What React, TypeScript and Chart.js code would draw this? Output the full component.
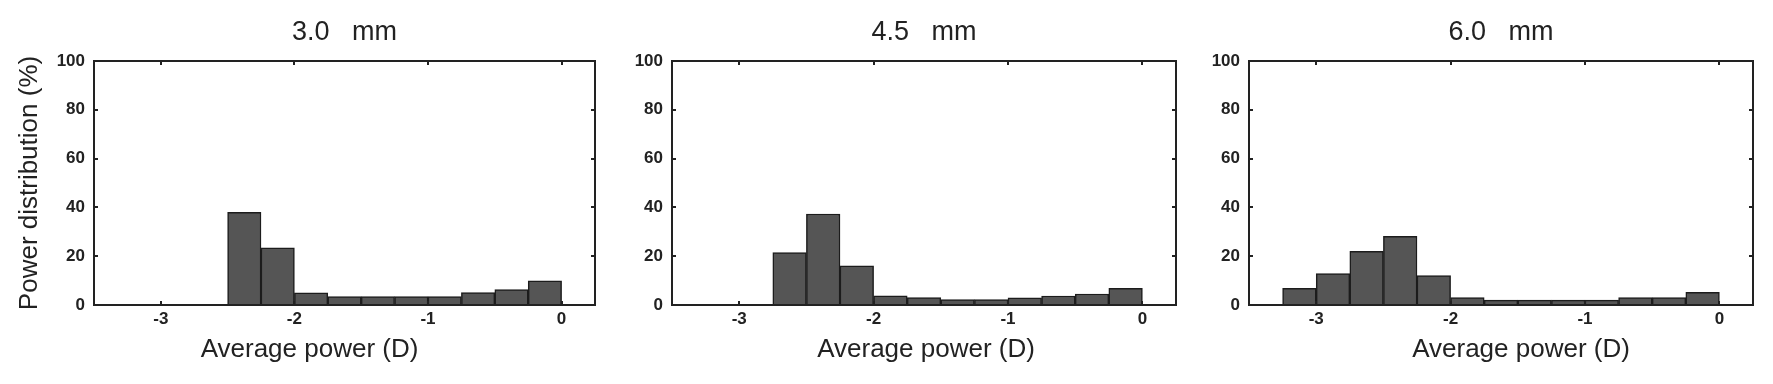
import React, { useEffect, useRef } from 'react';
import { Chart, registerables } from 'chart.js';

Chart.register(...registerables);

// ---- data ----
const panelTitles = ['3.0   mm', '4.5   mm', '6.0   mm'];
const xAxisTitle = 'Average power (D)';
const yAxisTitle = 'Power distribution (%)';
const xTickValues = [-3, -2, -1, 0];
const yTickValues = [0, 20, 40, 60, 80, 100];
const X_MIN = -3.5;
const X_MAX = 0.25;
const Y_MIN = 0;
const Y_MAX = 100;

const binCenters30 = [-2.375, -2.125, -1.875, -1.625, -1.375, -1.125, -0.875, -0.625, -0.375, -0.125];
const values30 = [38, 23.4, 5, 3.5, 3.5, 3.5, 3.5, 5.1, 6.3, 9.9];

const binCenters45 = [-2.625, -2.375, -2.125, -1.875, -1.625, -1.375, -1.125, -0.875, -0.625, -0.375, -0.125];
const values45 = [21.5, 37.3, 16.1, 3.8, 3, 2.2, 2.2, 2.9, 3.7, 4.5, 6.8];

const binCenters60 = [-3.125, -2.875, -2.625, -2.375, -2.125, -1.875, -1.625, -1.375, -1.125, -0.875, -0.625, -0.375, -0.125];
const values60 = [6.8, 12.9, 22, 28.1, 12.1, 3, 2, 2, 2, 2, 3, 3, 5.2];

const panelCenters = [binCenters30, binCenters45, binCenters60];
const panelValues = [values30, values45, values60];

// ---- layout / style ----
const CANVAS_H = 384;
const panels = [
  { left: 0, width: 600, yAxisWidth: 94, padRight: 5, showYTitle: true, xTitleShift: -35 },
  { left: 600, width: 580, yAxisWidth: 72, padRight: 4, showYTitle: false, xTitleShift: 2 },
  { left: 1180, width: 593, yAxisWidth: 69, padRight: 20, showYTitle: false, xTitleShift: 20 },
];
const INK = '#222222';
const BAR_FILL = '#555555';
const BAR_EDGE = '#1c1c1c';
const SANS = "'Liberation Sans', Arial, Helvetica, sans-serif";

const framePlugin = {
  id: 'frame',
  afterDatasetsDraw(chart: any, _args: any, opts: any) {
    const { ctx, chartArea: a, scales } = chart;
    ctx.save();
    ctx.strokeStyle = INK;
    ctx.lineWidth = 2;
    ctx.strokeRect(a.left, a.top, a.right - a.left, a.bottom - a.top);
    const tl = 4;
    ctx.beginPath();
    for (const v of xTickValues) {
      const px = Math.round(scales.x.getPixelForValue(v));
      ctx.moveTo(px, a.bottom);
      ctx.lineTo(px, a.bottom - tl);
      ctx.moveTo(px, a.top);
      ctx.lineTo(px, a.top + tl);
    }
    for (const v of yTickValues) {
      const py = Math.round(scales.y.getPixelForValue(v));
      ctx.moveTo(a.left, py);
      ctx.lineTo(a.left + tl, py);
      ctx.moveTo(a.right, py);
      ctx.lineTo(a.right - tl, py);
    }
    ctx.stroke();
    ctx.fillStyle = INK;
    ctx.font = `26px ${SANS}`;
    ctx.textAlign = 'center';
    ctx.textBaseline = 'middle';
    ctx.fillText(xAxisTitle, (a.left + a.right) / 2 + (opts.shift || 0), a.bottom + 45);
    ctx.restore();
  },
};

function Panel({ idx }: { idx: number }) {
  const ref = useRef<HTMLCanvasElement>(null);
  const p = panels[idx];
  useEffect(() => {
    if (!ref.current) return;
    const centers = panelCenters[idx];
    const vals = panelValues[idx];
    const tickFont = { family: SANS, size: 17, weight: 'bold' as const };
    const chart = new Chart(ref.current, {
      type: 'bar',
      data: {
        datasets: [
          {
            data: centers.map((c, i) => ({ x: c, y: vals[i] })),
            backgroundColor: BAR_FILL,
            borderColor: BAR_EDGE,
            borderWidth: 1.5,
            barPercentage: 1,
            categoryPercentage: 1,
            grouped: false,
          } as any,
        ],
      },
      options: {
        animation: false,
        responsive: false,
        layout: { padding: { left: 0, right: p.padRight, top: 0, bottom: 0 } },
        scales: {
          x: {
            type: 'linear',
            min: X_MIN,
            max: X_MAX,
            offset: false,
            grid: { display: false, drawTicks: false },
            border: { display: false },
            afterBuildTicks: (s: any) => {
              s.ticks = xTickValues.map((v) => ({ value: v }));
            },
            afterFit: (s: any) => {
              s.height = 79;
            },
            ticks: {
              font: tickFont,
              color: INK,
              padding: 4,
              maxRotation: 0,
              autoSkip: false,
              callback: (v: any) => String(v),
            },
          },
          y: {
            type: 'linear',
            min: Y_MIN,
            max: Y_MAX,
            grid: { display: false, drawTicks: false },
            border: { display: false },
            afterBuildTicks: (s: any) => {
              s.ticks = yTickValues.map((v) => ({ value: v }));
            },
            afterFit: (s: any) => {
              s.width = p.yAxisWidth;
            },
            ticks: {
              font: tickFont,
              color: INK,
              padding: 9,
              autoSkip: false,
              callback: (v: any) => String(v),
            },
            title: {
              display: p.showYTitle,
              text: yAxisTitle,
              color: INK,
              font: { family: SANS, size: 26, weight: 'normal' as const },
              padding: { top: 14, bottom: 0 },
            },
          },
        },
        plugins: {
          legend: { display: false },
          tooltip: { enabled: false },
          title: {
            display: true,
            text: panelTitles[idx],
            fullSize: false,
            color: INK,
            font: { family: SANS, size: 27, weight: 'normal' as const },
            padding: { top: 16, bottom: 12.6 },
          },
          frame: { shift: p.xTitleShift },
        } as any,
      },
      plugins: [framePlugin],
    });
    return () => chart.destroy();
  }, [idx]);
  return (
    <canvas
      ref={ref}
      width={p.width}
      height={CANVAS_H}
      style={{ position: 'absolute', left: p.left, top: 0, width: p.width, height: CANVAS_H }}
    />
  );
}

export default function App() {
  return (
    <div
      style={{
        position: 'absolute',
        left: 0,
        top: 0,
        width: 1773,
        height: CANVAS_H,
        background: '#ffffff',
        overflow: 'hidden',
      }}
    >
      {panels.map((_, i) => (
        <Panel key={i} idx={i} />
      ))}
    </div>
  );
}
